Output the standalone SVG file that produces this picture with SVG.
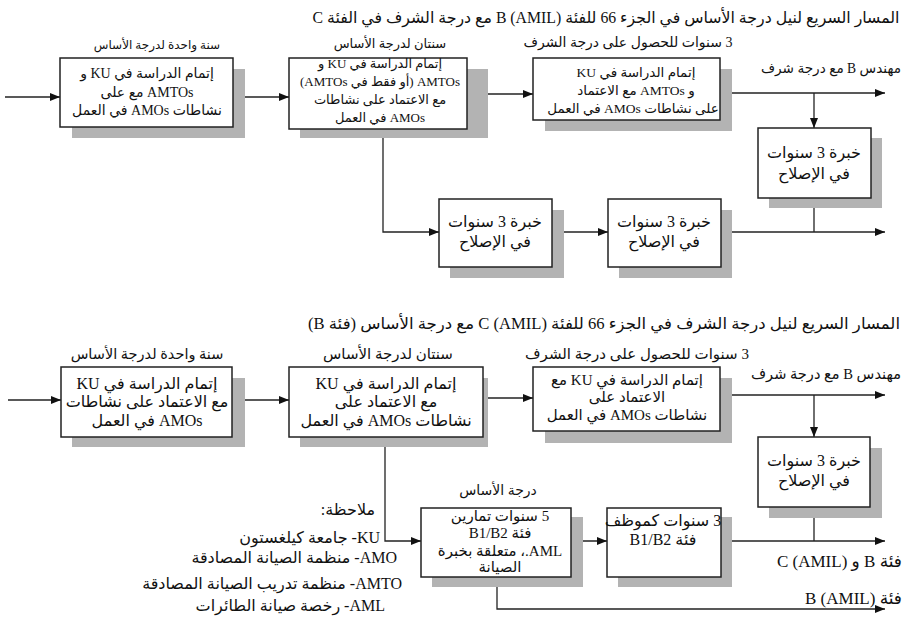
<svg xmlns="http://www.w3.org/2000/svg" width="905" height="621" viewBox="0 0 905 621">
  <defs>
    <marker id="ah" viewBox="0 0 10 8" refX="10" refY="4" markerWidth="10" markerHeight="8" markerUnits="userSpaceOnUse" orient="auto">
      <path d="M0,0 L10,4 L0,8 z" fill="#111"/>
    </marker>
  </defs>
  <style>
    /* Arabic text, right-to-left base direction */
    text { font-family: "Liberation Serif", "DejaVu Sans", serif; fill: #111; text-anchor: middle; direction: rtl; unicode-bidi: embed; }
    .title { font-size: 16px; }
    .t13 { font-size: 13px; }
    .t14 { font-size: 14px; }
    .t15 { font-size: 15px; }
    .t16 { font-size: 16px; }
    .note { font-size: 16px; text-anchor: start; }
    .lab { font-size: 17px; text-anchor: start; }
    .box { fill: #fff; stroke: #222; stroke-width: 1.5; }
    .shadow { fill: #b3b3b3; }
    .wire { fill: none; stroke: #222; stroke-width: 1.3; }
    .arrow { marker-end: url(#ah); }
  </style>
  <rect width="905" height="621" fill="#fff"/>

  <!-- headings -->
  <text class="title" x="606" y="23" textLength="587" lengthAdjust="spacingAndGlyphs">المسار السريع لنيل درجة الأساس في الجزء 66 للفئة B (AMIL) مع درجة الشرف في الفئة C</text>
  <text class="title" x="604" y="329" textLength="592" lengthAdjust="spacingAndGlyphs">المسار السريع لنيل درجة الشرف في الجزء 66 للفئة C (AMIL) مع درجة الأساس (فئة B)</text>

  <!-- stage captions -->
  <text style="font-size:12px" x="157" y="49">سنة واحدة لدرجة الأساس</text>
  <text class="t13" x="390" y="48">سنتان لدرجة الأساس</text>
  <text class="t14" x="628" y="47">3 سنوات للحصول على درجة الشرف</text>
  <text class="t14" x="831" y="73" textLength="140" lengthAdjust="spacingAndGlyphs">مهندس B مع درجة شرف</text>

  <text style="font-size:14.5px" x="147" y="359">سنة واحدة لدرجة الأساس</text>
  <text class="t15" x="388" y="359">سنتان لدرجة الأساس</text>
  <text class="t15" x="637" y="359">3 سنوات للحصول على درجة الشرف</text>
  <text class="t15" x="826" y="379" textLength="150" lengthAdjust="spacingAndGlyphs">مهندس B مع درجة شرف</text>
  <text class="t14" x="498" y="495">درجة الأساس</text>
  <text class="lab" x="902" y="567">فئة B و C (AMIL)</text>
  <text class="lab" x="902" y="604">فئة B (AMIL)</text>

  <!-- connectors -->
  <g id="connectors">
    <path class="wire arrow" d="M5,97 H60"/>
    <path class="wire arrow" d="M233,97 H289"/>
    <path class="wire arrow" d="M467,94 H533"/>
    <path class="wire arrow" d="M720,93 H885"/>
    <path class="wire arrow" d="M814,93 V128"/>
    <path class="wire arrow" d="M383,129 V232 H439"/>
    <path class="wire arrow" d="M552,232 H608"/>
    <path class="wire arrow" d="M721,232 H885"/>
    <path class="wire" d="M814,198 V232"/>

    <path class="wire arrow" d="M8,400 H61"/>
    <path class="wire arrow" d="M232,400 H289"/>
    <path class="wire arrow" d="M483,398 H533"/>
    <path class="wire arrow" d="M720,395 H885"/>
    <path class="wire arrow" d="M814,395 V437"/>
    <path class="wire arrow" d="M385,437 V541 H421"/>
    <path class="wire arrow" d="M571,541 H607"/>
    <path class="wire arrow" d="M721,541 H885"/>
    <path class="wire" d="M814,507 V541"/>
    <path class="wire arrow" d="M497,577 V609 H885"/>
  </g>

  <!-- upper path -->
  <g id="a1">
    <rect class="shadow" x="72" y="69" width="173" height="69"/>
    <rect class="box" x="60" y="58" width="173" height="69"/>
    <text class="t14" x="147" y="78">إتمام الدراسة في KU و</text>
    <text class="t14" x="147" y="97">AMTOs مع على</text>
    <text class="t14" x="147" y="115">نشاطات AMOs في العمل</text>
  </g>
  <g id="a2">
    <rect class="shadow" x="300" y="69" width="188" height="69"/>
    <rect class="box" x="289" y="58" width="178" height="71"/>
    <text class="t13" x="380" y="68">إتمام الدراسة في KU و</text>
    <text class="t13" x="380" y="86">AMTOs (أو فقط في AMTOs)</text>
    <text class="t13" x="380" y="104">مع الاعتماد على نشاطات</text>
    <text class="t13" x="380" y="122">AMOs في العمل</text>
  </g>
  <g id="a3">
    <rect class="shadow" x="545" y="69" width="187" height="62"/>
    <rect class="box" x="533" y="58" width="187" height="62"/>
    <text style="font-size:13.5px" x="636" y="77">إتمام الدراسة في KU</text>
    <text style="font-size:13.5px" x="636" y="95">و AMTOs مع الاعتماد</text>
    <text style="font-size:13.5px" x="633" y="113">على نشاطات AMOs في العمل</text>
  </g>
  <g id="a4">
    <rect class="shadow" x="769" y="138" width="113" height="70"/>
    <rect class="box" x="758" y="128" width="113" height="70"/>
    <text class="t16" x="814" y="158">خبرة 3 سنوات</text>
    <text class="t16" x="814" y="179">في الإصلاح</text>
  </g>
  <g id="a5">
    <rect class="shadow" x="450" y="210" width="114" height="68"/>
    <rect class="box" x="439" y="199" width="113" height="68"/>
    <text class="t16" x="495" y="227">خبرة 3 سنوات</text>
    <text class="t16" x="495" y="247">في الإصلاح</text>
  </g>
  <g id="a6">
    <rect class="shadow" x="619" y="210" width="113" height="68"/>
    <rect class="box" x="608" y="199" width="113" height="68"/>
    <text class="t16" x="664" y="227">خبرة 3 سنوات</text>
    <text class="t16" x="664" y="247">في الإصلاح</text>
  </g>

  <!-- lower path -->
  <g id="b1">
    <rect class="shadow" x="72" y="378" width="173" height="69"/>
    <rect class="box" x="61" y="367" width="171" height="70"/>
    <text class="t16" x="147" y="389">إتمام الدراسة في KU</text>
    <text class="t16" x="147" y="407">مع الاعتماد على نشاطات</text>
    <text class="t16" x="147" y="426">AMOs في العمل</text>
  </g>
  <g id="b2">
    <rect class="shadow" x="300" y="378" width="188" height="69"/>
    <rect class="box" x="289" y="367" width="194" height="70"/>
    <text class="t16" x="386" y="389">إتمام الدراسة في KU</text>
    <text class="t16" x="386" y="407">مع الاعتماد على</text>
    <text class="t16" x="386" y="426">نشاطات AMOs في العمل</text>
  </g>
  <g id="b3">
    <rect class="shadow" x="545" y="378" width="187" height="65"/>
    <rect class="box" x="533" y="367" width="187" height="64"/>
    <text class="t15" x="627" y="385">إتمام الدراسة في KU مع</text>
    <text class="t15" x="627" y="402">الاعتماد على</text>
    <text class="t15" x="627" y="420">نشاطات AMOs في العمل</text>
  </g>
  <g id="b4">
    <rect class="shadow" x="769" y="448" width="113" height="70"/>
    <rect class="box" x="758" y="437" width="112" height="70"/>
    <text class="t16" x="814" y="466">خبرة 3 سنوات</text>
    <text class="t16" x="814" y="486">في الإصلاح</text>
  </g>
  <g id="b5">
    <rect class="shadow" x="432" y="517" width="151" height="70"/>
    <rect class="box" x="421" y="508" width="150" height="69"/>
    <text class="t15" x="500" y="521">5 سنوات تمارين</text>
    <text class="t15" x="500" y="538">فئة B1/B2</text>
    <text class="t15" x="500" y="556">AML.، متعلقة بخبرة</text>
    <text class="t15" x="500" y="572">الصيانة</text>
  </g>
  <g id="b6">
    <rect class="shadow" x="618" y="517" width="114" height="70"/>
    <rect class="box" x="607" y="508" width="114" height="69"/>
    <text class="t16" x="663" y="526">3 سنوات كموظف</text>
    <text class="t16" x="663" y="545">فئة B1/B2</text>
  </g>

  <!-- abbreviations -->
  <g id="notes">
    <text class="note" x="375" y="515">ملاحظة:</text>
    <text class="note" x="380" y="543">KU- جامعة كيلغستون</text>
    <text class="note" x="397" y="563">AMO- منظمة الصيانة المصادقة</text>
    <text class="note" x="402" y="589">AMTO- منظمة تدريب الصيانة المصادقة</text>
    <text class="note" x="385" y="611">AML- رخصة صيانة الطائرات</text>
  </g>
</svg>
